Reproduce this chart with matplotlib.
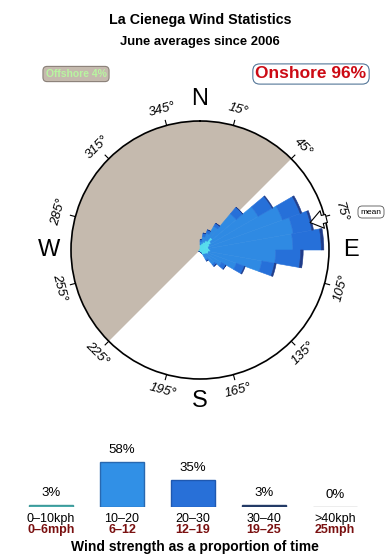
import numpy as np
import matplotlib
matplotlib.use("Agg")
import matplotlib.pyplot as plt
import matplotlib.transforms as mtransforms

plt.rcParams['font.family'] = ['Liberation Sans', 'DejaVu Sans']

# ---------------- data ----------------
title = "La Cienega Wind Statistics"
subtitle = "June averages since 2006"
offshore_label = "Offshore 4%"
onshore_label = "Onshore 96%"

# rose: bins of 10 degrees (start bearing), % of time per speed class
dir_bins = [0, 10, 20, 30, 40, 50, 60, 70, 80, 90, 100, 110, 120, 130, 140, 150, 160, 170, 180, 190, 200, 210, 220]
spd_0_10 = [0.6, 0.8, 1.0, 1.3, 1.9, 1.5, 1.2, 1.0, 1.1, 1.2, 1.0, 1.0, 0.8, 0.7, 0.6, 0.4, 0.3, 0.3, 0.2, 0.2, 0.2, 0.2, 0.2]
spd_10_20 = [0.4, 0.8, 1.1, 1.9, 3.6, 6.3, 9.0, 10.0, 9.7, 7.6, 6.3, 3.5, 2.1, 1.5, 0.7, 0.0, 0.0, 0.0, 0.0, 0.0, 0.0, 0.0, 0.0]
spd_20_30 = [0.2, 0.4, 0.4, 0.4, 1.0, 1.9, 2.2, 2.2, 3.3, 2.9, 1.5, 1.0, 0.6, 0.3, 0.2, 0.0, 0.0, 0.0, 0.0, 0.0, 0.0, 0.0, 0.0]
spd_30_40 = [0.0, 0.0, 0.0, 0.0, 0.0, 0.1, 0.2, 0.2, 0.3, 0.3, 0.2, 0.1, 0.0, 0.0, 0.0, 0.0, 0.0, 0.0, 0.0, 0.0, 0.0, 0.0, 0.0]
rose_max = 15.0
mean_dir = 76

compass_dirs = [0, 90, 180, 270]
compass_labels = ["N", "E", "S", "W"]
deg_ticks = [15, 45, 75, 105, 135, 165, 195, 225, 255, 285, 315, 345]
offshore_from, offshore_to = 225, 405

# bottom summary bars
speed_classes = ["0\u201310kph", "10\u201320", "20\u201330", "30\u201340", ">40kph"]
speed_mph = ["0\u20136mph", "6\u201312", "12\u201319", "19\u201325", "25mph"]
speed_pct = [3, 58, 35, 3, 0]

# ---------------- styles ----------------
grey = "#C5BAAE"
c_cyan = "#55DDEE"
c_light = "#2F8AE3"
c_dark = "#2670D9"
c_navy = "#1F3C8A"
bar_colors = ["#4FB5B5", "#3190E6", "#2870D8", "#233A66", "#A8A8A8"]
bar_edges = ["#3F9A9A", "#2868B0", "#1F58B0", "#233A66", "#A8A8A8"]
dark_red = "#7A1010"

W, H = 390, 560
fig = plt.figure(figsize=(W / 100, H / 100), dpi=100)

def fx(px):
    return px / W

def fy(py):
    return 1 - py / H

# titles
fig.text(fx(200), fy(20), title, ha="center", va="center", fontsize=10.3, fontweight="bold")
fig.text(fx(200), fy(42), subtitle, ha="center", va="center", fontsize=9.4, fontweight="bold")

fig.text(fx(76), fy(74), offshore_label, ha="center", va="center", fontsize=7.5,
         fontweight="bold", color="#B8F5A0",
         bbox=dict(boxstyle="round,pad=0.25,rounding_size=0.4", fc=grey, ec="#8A8078", lw=0.8))
fig.text(fx(311), fy(74), onshore_label, ha="center", va="center", fontsize=12.5,
         fontweight="bold", color="#CC0A14",
         bbox=dict(boxstyle="round,pad=0.15,rounding_size=0.4", fc="white", ec="#557799", lw=0.8))

# ---------------- rose ----------------
cx, cy, R = 200, 250, 129
ax = fig.add_axes([fx(cx - R), fy(cy + R), 2 * R / W, 2 * R / H], projection="polar")
ax.set_theta_zero_location("N")
ax.set_theta_direction(-1)
ax.set_ylim(0, rose_max)
ax.grid(False)
ax.set_xticks([])
ax.set_yticks([])
ax.spines["polar"].set_linewidth(1.2)

# offshore sector
ax.bar(np.deg2rad((offshore_from + offshore_to) / 2), rose_max,
       width=np.deg2rad(offshore_to - offshore_from), bottom=0,
       color=grey, edgecolor="none", zorder=1)

theta = np.deg2rad(np.array(dir_bins) + 5)
width = np.deg2rad(10.0)
bottom = np.zeros(len(dir_bins))
for vals, col in [(spd_0_10, c_cyan), (spd_10_20, c_light), (spd_20_30, c_dark), (spd_30_40, c_navy)]:
    v = np.array(vals)
    ax.bar(theta, v, width=width, bottom=bottom, color=col, edgecolor=col, lw=0.4, zorder=2)
    bottom = bottom + v

# ticks and labels
for d in deg_ticks:
    t = np.deg2rad(d)
    ax.plot([t, t], [rose_max, rose_max * 1.04], color="black", lw=0.8, clip_on=False, zorder=5)
    if d <= 90 or d >= 270:
        rot = -d
    else:
        rot = 180 - d
    ax.text(t, rose_max * 1.13, f"{d}\u00b0", rotation=rot, rotation_mode="anchor",
            ha="center", va="center", fontsize=9.5, style="italic", clip_on=False)
for d, lab in zip(compass_dirs, compass_labels):
    ax.text(np.deg2rad(d), rose_max * 1.17, lab, ha="center", va="center",
            fontsize=17, clip_on=False)

# mean arrow
ax.annotate("", xy=(np.deg2rad(mean_dir), rose_max * 0.88),
            xytext=(np.deg2rad(mean_dir), rose_max * 1.01),
            arrowprops=dict(arrowstyle="simple,head_width=1.3,head_length=0.9,tail_width=0.6",
                            fc="white", ec="black", lw=0.8, shrinkA=0, shrinkB=0),
            annotation_clip=False, zorder=6)
fig.text(fx(371), fy(212), "mean", ha="center", va="center", fontsize=6,
         bbox=dict(boxstyle="round,pad=0.3,rounding_size=0.5", fc="white", ec="#555555", lw=0.6))

# ---------------- summary bars ----------------
spacing = 71.0
axb = fig.add_axes([fx(51 - spacing / 2), fy(507), 5 * spacing / W, 50 / H])
axb.set_xlim(-0.5, 4.5)
axb.set_ylim(0, 50 * 58 / 45)
axb.axis("off")
xs = np.arange(len(speed_pct))
axb.bar(xs, speed_pct, width=44 / spacing, color=bar_colors, edgecolor=bar_edges, lw=1.0)
for x, p in zip(xs, speed_pct):
    axb.annotate(f"{p}%", xy=(x, p), xytext=(0, 4), textcoords="offset points",
                 ha="center", va="bottom", fontsize=9.5)

tr = mtransforms.blended_transform_factory(axb.transData, fig.transFigure)
for x, k, m in zip(xs, speed_classes, speed_mph):
    fig.text(x, fy(519), k, transform=tr, ha="center", va="center", fontsize=9)
    fig.text(x, fy(530), m, transform=tr, ha="center", va="center", fontsize=9,
             fontweight="bold", color=dark_red)
fig.text(fx(195), fy(547), "Wind strength as a proportion of time", ha="center", va="center",
         fontsize=10, fontweight="bold")

fig.savefig("out.png", dpi=100)
